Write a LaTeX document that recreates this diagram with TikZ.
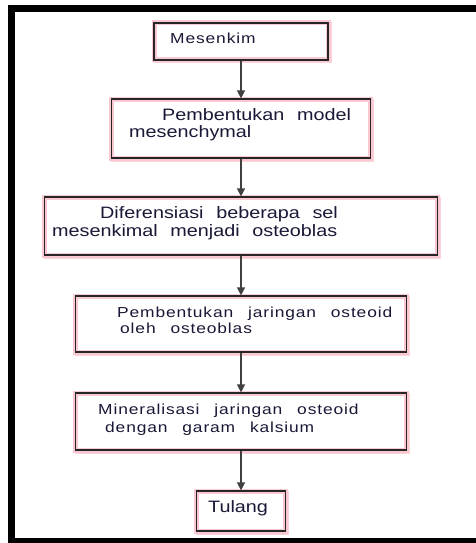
\documentclass[tikz,border=0pt]{standalone}
\usepackage{fontspec}
\setmainfont{Liberation Sans}
\newfontfamily\flowfont[FakeStretch=1.2,WordSpace=2.3]{Liberation Sans}
\newfontfamily\flowfontsp[FakeStretch=1.2,LetterSpace=6,WordSpace=2.6]{Liberation Sans}
\usetikzlibrary{arrows,arrows.meta}
\definecolor{inktext}{RGB}{25,25,55}
\definecolor{glowpink}{RGB}{250,200,208}
\tikzset{
  flowbox/.style={draw=glowpink, line width=5pt, fill=white, inner sep=0pt, outer sep=0.6pt,
    preaction={draw=glowpink!80, line width=4pt, transform canvas={shift={(1.5pt,-1.5pt)}}},
    postaction={draw=black!85, line width=1.4pt}},
  bigtext/.style={anchor=base west, inner sep=0pt, text=inktext, font=\flowfont\fontsize{16.5}{18}\selectfont},
  smalltext/.style={anchor=base west, inner sep=0pt, text=inktext, font=\flowfontsp\fontsize{14.5}{17}\selectfont},
  flowarrow/.style={-{Triangle[length=8pt,width=8pt]}, line width=1.4pt, draw=black!75, fill=black!80},
}
\begin{document}
\begin{tikzpicture}[x=1pt,y=-1pt]
\useasboundingbox[fill=white] (0,0) rectangle (476,543);
\draw[line width=7pt] (11.5,8.5) rectangle (490,541.5);

\node[flowbox, minimum width=174pt, minimum height=37pt] (b1) at (241,41.5) {};
\node[flowbox, minimum width=259pt, minimum height=59pt] (b2) at (241,128.5) {};
\node[flowbox, minimum width=393pt, minimum height=58pt] (b3) at (241,226) {};
\node[flowbox, minimum width=331pt, minimum height=56pt] (b4) at (241,324) {};
\node[flowbox, minimum width=331pt, minimum height=57pt] (b5) at (241,421.5) {};
\node[flowbox, minimum width=89pt, minimum height=40pt] (b6) at (241,511) {};

\node[smalltext] (t1) at (170,44) {Mesenkim};
\node[bigtext] (t2a) at (162,120) {Pembentukan model};
\node[bigtext] (t2b) at (129,137) {mesenchymal};
\node[bigtext] (t3a) at (100,218) {Diferensiasi beberapa sel};
\node[bigtext] (t3b) at (52,236) {mesenkimal menjadi osteoblas};
\node[smalltext] (t4a) at (117,317) {Pembentukan jaringan osteoid};
\node[smalltext] (t4b) at (120,333.5) {oleh osteoblas};
\node[smalltext] (t5a) at (98,414) {Mineralisasi jaringan osteoid};
\node[smalltext] (t5b) at (105,432) {dengan garam kalsium};
\node[bigtext] (t6) at (208,512.5) {Tulang};

\draw[flowarrow] (b1) -- (b2);
\draw[flowarrow] (b2) -- (b3);
\draw[flowarrow] (b3) -- (b4);
\draw[flowarrow] (b4) -- (b5);
\draw[flowarrow] (b5) -- (b6);

\end{tikzpicture}
\end{document}
